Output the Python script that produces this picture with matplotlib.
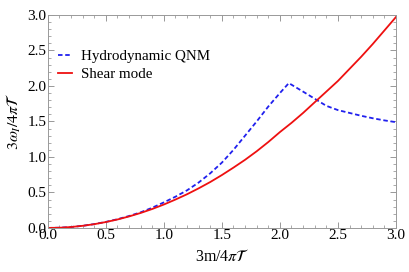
import numpy as np
import matplotlib
matplotlib.use('Agg')
import matplotlib.pyplot as plt
from matplotlib.ticker import MultipleLocator

plt.rcParams['font.family'] = 'Liberation Serif'
plt.rcParams['mathtext.fontset'] = 'stix'

# shear mode (red, solid)
m_shear = [0.0, 0.1, 0.2, 0.3, 0.4, 0.5, 0.6, 0.7, 0.8, 0.9, 1.0, 1.1, 1.2, 1.3, 1.4, 1.5,
           1.6, 1.7, 1.8, 1.9, 2.0, 2.1, 2.2, 2.3, 2.4, 2.5, 2.6, 2.7, 2.8, 2.9, 3.0]
w_shear = [0.0, 0.003, 0.013, 0.03, 0.053, 0.083, 0.119, 0.162, 0.211, 0.267, 0.33, 0.40,
           0.475, 0.558, 0.647, 0.745, 0.85, 0.96, 1.08, 1.21, 1.35, 1.48, 1.62, 1.77, 1.92,
           2.07, 2.24, 2.41, 2.59, 2.78, 2.97]

# hydrodynamic QNM (blue, dashed)
m_hydro = [0.0, 0.1, 0.2, 0.3, 0.4, 0.5, 0.6, 0.7, 0.8, 0.9, 1.0, 1.1, 1.2, 1.3, 1.4, 1.5,
           1.6, 1.7, 1.8, 1.9, 2.0, 2.077, 2.2, 2.32, 2.4, 2.5, 2.6, 2.7, 2.8, 2.9, 3.0]
w_hydro = [0.0, 0.003, 0.013, 0.03, 0.054, 0.085, 0.123, 0.168, 0.22, 0.285, 0.36, 0.44,
           0.53, 0.64, 0.77, 0.92, 1.10, 1.30, 1.50, 1.71, 1.90, 2.04, 1.92, 1.80, 1.72,
           1.66, 1.62, 1.58, 1.545, 1.515, 1.49]

fig = plt.figure(figsize=(4.09, 2.72), dpi=100)
ax = fig.add_axes([0.117, 0.162, 0.851, 0.783])

ax.plot(m_hydro, w_hydro, color='#2020ee', ls=(0, (2.5, 1.5)), lw=1.3, label='Hydrodynamic QNM')
ax.plot(m_shear, w_shear, color='#ee1010', lw=1.3, label='Shear mode')

ax.set_xlim(0, 3)
ax.set_ylim(0, 3)
ax.xaxis.set_major_locator(MultipleLocator(0.5))
ax.yaxis.set_major_locator(MultipleLocator(0.5))
ax.xaxis.set_minor_locator(MultipleLocator(0.1))
ax.yaxis.set_minor_locator(MultipleLocator(0.1))
ax.tick_params(which='both', direction='in', top=True, right=True, colors='#888888',
               labelcolor='black', labelsize=11, pad=1)
ax.tick_params(which='major', length=4, width=0.6)
ax.tick_params(which='minor', length=2, width=0.5)
for s in ax.spines.values():
    s.set_color('#999999')
    s.set_linewidth(0.7)

ax.set_xlabel(r'3m/4$\pi\mathcal{T}$', fontsize=11.5, labelpad=5)
ax.set_ylabel(r'$3\omega_I/4\pi\mathcal{T}$', fontsize=11.5, labelpad=3)

ax.legend(loc='upper left', bbox_to_anchor=(0.03, 0.838), frameon=False, fontsize=10.8,
          handlelength=0.9, handletextpad=0.6, labelspacing=0.3, borderaxespad=0,
          borderpad=0)

fig.savefig('out.png', dpi=100)
